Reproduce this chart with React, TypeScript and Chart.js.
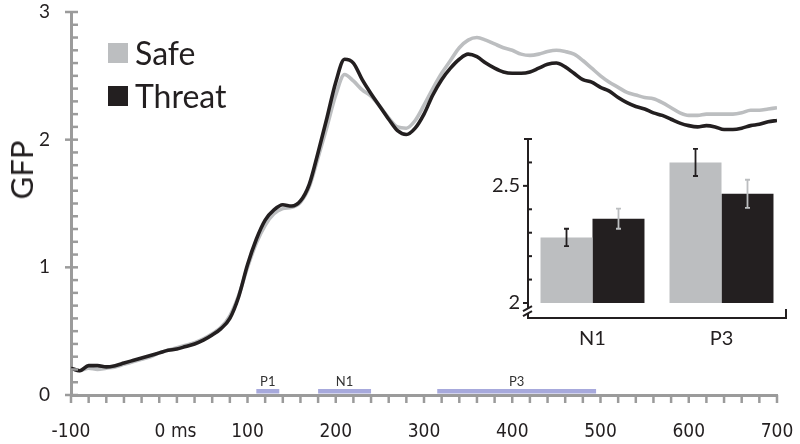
import React, { useEffect, useRef } from "react";
import { Chart, registerables } from "chart.js";

Chart.register(...registerables);

// ---- Main ERP (GFP) data ----
const times = [
  -100, -90, -80, -70, -60, -50, -40, -30, -20, -10,
  0, 10, 20, 30, 40, 50, 60, 70, 80, 90,
  100, 110, 120, 130, 140, 150, 160, 170, 180, 190,
  200, 210, 220, 230, 240, 250, 260, 270, 280, 290,
  300, 310, 320, 330, 340, 350, 360, 370, 380, 390,
  400, 410, 420, 430, 440, 450, 460, 470, 480, 490,
  500, 510, 520, 530, 540, 550, 560, 570, 580, 590,
  600, 610, 620, 630, 640, 650, 660, 670, 680, 690, 700,
];

const safeGFP = [
  0.21, 0.19, 0.21, 0.2, 0.21, 0.22, 0.24, 0.26, 0.28, 0.3,
  0.33, 0.35, 0.37, 0.39, 0.41, 0.44, 0.48, 0.53, 0.62, 0.78,
  1.0, 1.19, 1.33, 1.42, 1.46, 1.47, 1.51, 1.63, 1.86, 2.1,
  2.35, 2.51, 2.46, 2.39, 2.34, 2.26, 2.17, 2.1, 2.09, 2.15,
  2.27, 2.4, 2.52, 2.62, 2.72, 2.78, 2.8, 2.78, 2.75, 2.72,
  2.7, 2.67, 2.66, 2.67, 2.69, 2.7, 2.69, 2.67, 2.62, 2.56,
  2.5, 2.45, 2.41, 2.37, 2.35, 2.33, 2.32, 2.29, 2.25, 2.21,
  2.19, 2.19, 2.2, 2.2, 2.2, 2.2, 2.21, 2.23, 2.23, 2.24, 2.25,
];

const threatGFP = [
  0.21, 0.19, 0.23, 0.23, 0.22, 0.23, 0.25, 0.27, 0.29, 0.31,
  0.33, 0.35, 0.36, 0.38, 0.4, 0.43, 0.47, 0.52, 0.6, 0.77,
  1.02, 1.22, 1.37, 1.45, 1.49, 1.48, 1.52, 1.65, 1.9, 2.17,
  2.45, 2.63, 2.6, 2.47, 2.36, 2.26, 2.16, 2.07, 2.04, 2.09,
  2.2, 2.35, 2.47, 2.56, 2.63, 2.67, 2.65, 2.6, 2.56, 2.53,
  2.52, 2.52, 2.53, 2.56, 2.59, 2.6, 2.57, 2.52, 2.47, 2.45,
  2.41, 2.38, 2.33, 2.29, 2.26, 2.24, 2.21, 2.19, 2.16, 2.13,
  2.11, 2.1, 2.11, 2.1, 2.08, 2.08, 2.09, 2.11, 2.12, 2.14, 2.15,
];

const xTickValues = [-100, 0, 100, 200, 300, 400, 500, 600, 700];
const yTickValues = [0, 1, 2, 3];

// Analysis windows (ms)
const windowNames = ["P1", "N1", "P3"];
const windowStart = [110, 180, 315];
const windowEnd = [136, 240, 495];

// ---- Inset bar data ----
const insetCategories = ["N1", "P3"];
const insetSafe = [2.28, 2.6];
const insetThreat = [2.36, 2.466];
const insetSafeErr = [0.037, 0.058];
const insetThreatErr = [0.043, 0.06];
const insetTickLabels = [2, 2.5];
const insetMinorTicks = [2.1, 2.2, 2.3, 2.4, 2.6, 2.7];

const SAFE = "#bcbec0";
const THREAT = "#231f20";
const AXIS_GREY = "#9b9b9b";
const BAND = "#a7a9dc";

const zeroPad = (s: any) => {
  s.paddingTop = 0;
  s.paddingBottom = 0;
  s.paddingLeft = 0;
  s.paddingRight = 0;
};

const mainAxisPlugin = {
  id: "mainAxis",
  afterDraw(chart: any) {
    const { ctx, chartArea } = chart;
    const xs = chart.scales.x;
    const ys = chart.scales.y;
    ctx.save();
    ctx.strokeStyle = AXIS_GREY;
    ctx.lineWidth = 2.5;
    for (let i = 0; i <= 30; i++) {
      const py = ys.getPixelForValue(i / 10);
      const major = i % 10 === 0;
      ctx.beginPath();
      ctx.moveTo(chartArea.left - (major ? 6 : 0), py);
      ctx.lineTo(chartArea.left + 7, py);
      ctx.stroke();
    }
    for (let t = -100; t <= 700; t += 20) {
      const px = xs.getPixelForValue(t);
      ctx.beginPath();
      ctx.moveTo(px, chartArea.bottom);
      ctx.lineTo(px, chartArea.bottom + 8);
      ctx.stroke();
    }
    ctx.restore();
  },
};

const windowPlugin = {
  id: "windows",
  afterDraw(chart: any) {
    const { ctx, chartArea } = chart;
    const xs = chart.scales.x;
    ctx.save();
    ctx.font = "13px Lato, 'Open Sans', sans-serif";
    ctx.textAlign = "center";
    ctx.textBaseline = "alphabetic";
    windowNames.forEach((name, i) => {
      const x0 = xs.getPixelForValue(windowStart[i]);
      const x1 = xs.getPixelForValue(windowEnd[i]);
      ctx.fillStyle = BAND;
      ctx.fillRect(x0, chartArea.bottom - 6, x1 - x0, 4.5);
      ctx.fillStyle = "#333";
      ctx.fillText(name, (x0 + x1) / 2, chartArea.bottom - 9);
    });
    ctx.restore();
  },
};

const insetPlugin = {
  id: "insetDecor",
  afterDatasetsDraw(chart: any) {
    const { ctx, chartArea } = chart;
    const ys = chart.scales.y;
    ctx.save();
    const errs = [insetSafeErr, insetThreatErr];
    const vals = [insetSafe, insetThreat];
    const cols = [THREAT, SAFE];
    [0, 1].forEach((d) => {
      const meta = chart.getDatasetMeta(d);
      meta.data.forEach((bar: any, i: number) => {
        const yTop = ys.getPixelForValue(vals[d][i] + errs[d][i]);
        const yBot = ys.getPixelForValue(vals[d][i] - errs[d][i]);
        ctx.strokeStyle = cols[d];
        ctx.lineWidth = 1.8;
        ctx.beginPath();
        ctx.moveTo(bar.x, yTop);
        ctx.lineTo(bar.x, yBot);
        ctx.moveTo(bar.x - 2.5, yTop);
        ctx.lineTo(bar.x + 2.5, yTop);
        ctx.moveTo(bar.x - 2.5, yBot);
        ctx.lineTo(bar.x + 2.5, yBot);
        ctx.stroke();
      });
    });
    ctx.strokeStyle = THREAT;
    ctx.lineWidth = 2;
    const left = chartArea.left;
    insetTickLabels.forEach((v) => {
      const py = ys.getPixelForValue(v);
      ctx.beginPath();
      ctx.moveTo(left - 5, py);
      ctx.lineTo(left, py);
      ctx.stroke();
    });
    insetMinorTicks.forEach((v, i) => {
      const py = ys.getPixelForValue(v);
      const top = i === insetMinorTicks.length - 1;
      ctx.beginPath();
      ctx.moveTo(left - (top ? 4 : 0), py);
      ctx.lineTo(left + 4, py);
      ctx.stroke();
    });
    const by = ys.getPixelForValue(2) + 6;
    ctx.fillStyle = "#fff";
    ctx.fillRect(left - 5, by - 1, 10, 5);
    ctx.beginPath();
    ctx.moveTo(left - 5, by + 2);
    ctx.lineTo(left + 4, by - 3);
    ctx.moveTo(left - 5, by + 7);
    ctx.lineTo(left + 4, by + 2);
    ctx.stroke();
    ctx.beginPath();
    ctx.moveTo(chartArea.right, chartArea.bottom);
    ctx.lineTo(chartArea.right, chartArea.bottom - 9);
    ctx.stroke();
    ctx.restore();
  },
};

function MainChart() {
  const ref = useRef<HTMLCanvasElement | null>(null);
  useEffect(() => {
    if (!ref.current) return;
    const chart = new Chart(ref.current, {
      type: "line",
      data: {
        datasets: [
          {
            label: "Threat",
            data: times.map((t, i) => ({ x: t, y: threatGFP[i] })),
            borderColor: THREAT,
            borderWidth: 3.6,
            pointRadius: 0,
            cubicInterpolationMode: "monotone",
            order: 1,
          },
          {
            label: "Safe",
            data: times.map((t, i) => ({ x: t, y: safeGFP[i] })),
            borderColor: SAFE,
            borderWidth: 3.6,
            pointRadius: 0,
            cubicInterpolationMode: "monotone",
            order: 2,
          },
        ],
      },
      options: {
        responsive: false,
        animation: false,
        layout: { padding: { top: 12, right: 23, left: 0, bottom: 0 } },
        plugins: { legend: { display: false }, tooltip: { enabled: false } },
        scales: {
          x: {
            type: "linear",
            min: -100,
            max: 700,
            afterBuildTicks: (s: any) => {
              s.ticks = xTickValues.map((v) => ({ value: v }));
            },
            afterFit: (s: any) => {
              s.height = 49;
              zeroPad(s);
            },
            ticks: {
              autoSkip: false,
              maxRotation: 0,
              padding: 26,
              color: "#231f20",
              font: { family: "'Liberation Sans Narrow', 'DejaVu Sans Condensed', Lato, sans-serif", size: 19 },
              callback: (v: any) => (Number(v) === 0 ? "      0 ms" : String(v)),
            },
            grid: { display: false, drawTicks: false },
            border: { color: AXIS_GREY, width: 3 },
          },
          y: {
            min: 0,
            max: 3,
            afterBuildTicks: (s: any) => {
              s.ticks = yTickValues.map((v) => ({ value: v }));
            },
            afterFit: (s: any) => {
              s.width = 71;
              zeroPad(s);
            },
            ticks: {
              padding: 21,
              color: "#231f20",
              font: { family: "Lato, sans-serif", size: 19 },
              callback: (v: any) => String(v),
            },
            grid: { display: false, drawTicks: false },
            border: { color: AXIS_GREY, width: 3 },
          },
        },
      },
      plugins: [windowPlugin, mainAxisPlugin],
    } as any);
    return () => chart.destroy();
  }, []);
  return <canvas ref={ref} width={800} height={444} style={{ position: "absolute", left: 0, top: 0 }} />;
}

function InsetChart() {
  const ref = useRef<HTMLCanvasElement | null>(null);
  useEffect(() => {
    if (!ref.current) return;
    const chart = new Chart(ref.current, {
      type: "bar",
      data: {
        labels: insetCategories,
        datasets: [
          {
            label: "Safe",
            data: insetSafe,
            backgroundColor: SAFE,
            base: 2,
            categoryPercentage: 0.806,
            barPercentage: 1,
          },
          {
            label: "Threat",
            data: insetThreat,
            backgroundColor: THREAT,
            base: 2,
            categoryPercentage: 0.806,
            barPercentage: 1,
          },
        ],
      },
      options: {
        responsive: false,
        animation: false,
        layout: { padding: { top: 14, right: 14, left: 0, bottom: 0 } },
        plugins: { legend: { display: false }, tooltip: { enabled: false } },
        scales: {
          x: {
            afterFit: (s: any) => {
              s.height = 37;
              zeroPad(s);
            },
            ticks: {
              padding: 9,
              color: "#231f20",
              font: { family: "Lato, sans-serif", size: 20 },
            },
            grid: { display: false, drawTicks: false },
            border: { color: THREAT, width: 2 },
          },
          y: {
            min: 1.936,
            max: 2.7,
            afterBuildTicks: (s: any) => {
              s.ticks = insetTickLabels.map((v) => ({ value: v }));
            },
            afterFit: (s: any) => {
              s.width = 58;
              zeroPad(s);
            },
            ticks: {
              padding: 8,
              color: "#231f20",
              font: { family: "Lato, sans-serif", size: 20 },
              callback: (v: any) => String(v),
            },
            grid: { display: false, drawTicks: false },
            border: { color: THREAT, width: 2 },
          },
        },
      },
      plugins: [insetPlugin],
    } as any);
    return () => chart.destroy();
  }, []);
  return <canvas ref={ref} width={330} height={230} style={{ position: "absolute", left: 470, top: 125 }} />;
}

export default function App() {
  const legendText: React.CSSProperties = {
    position: "absolute",
    left: 135,
    height: 40,
    display: "flex",
    alignItems: "center",
    fontFamily: "Lato, sans-serif",
    fontSize: 32,
    color: "#231f20",
    whiteSpace: "nowrap",
  };
  return (
    <div style={{ position: "fixed", left: 0, top: 0, width: 800, height: 444, background: "#fff", overflow: "hidden" }}>
      <MainChart />
      <InsetChart />
      <div
        style={{
          position: "absolute",
          left: 21,
          top: 170,
          transform: "translate(-50%, -50%) rotate(-90deg)",
          fontFamily: "Lato, sans-serif",
          fontSize: 31,
          color: "#231f20",
          whiteSpace: "nowrap",
        }}
      >
        GFP
      </div>
      <div style={{ position: "absolute", left: 108, top: 43, width: 20, height: 20, background: SAFE }} />
      <div style={{ ...legendText, top: 32 }}>Safe</div>
      <div style={{ position: "absolute", left: 108, top: 86, width: 20, height: 20, background: THREAT }} />
      <div style={{ ...legendText, top: 75 }}>Threat</div>
    </div>
  );
}
